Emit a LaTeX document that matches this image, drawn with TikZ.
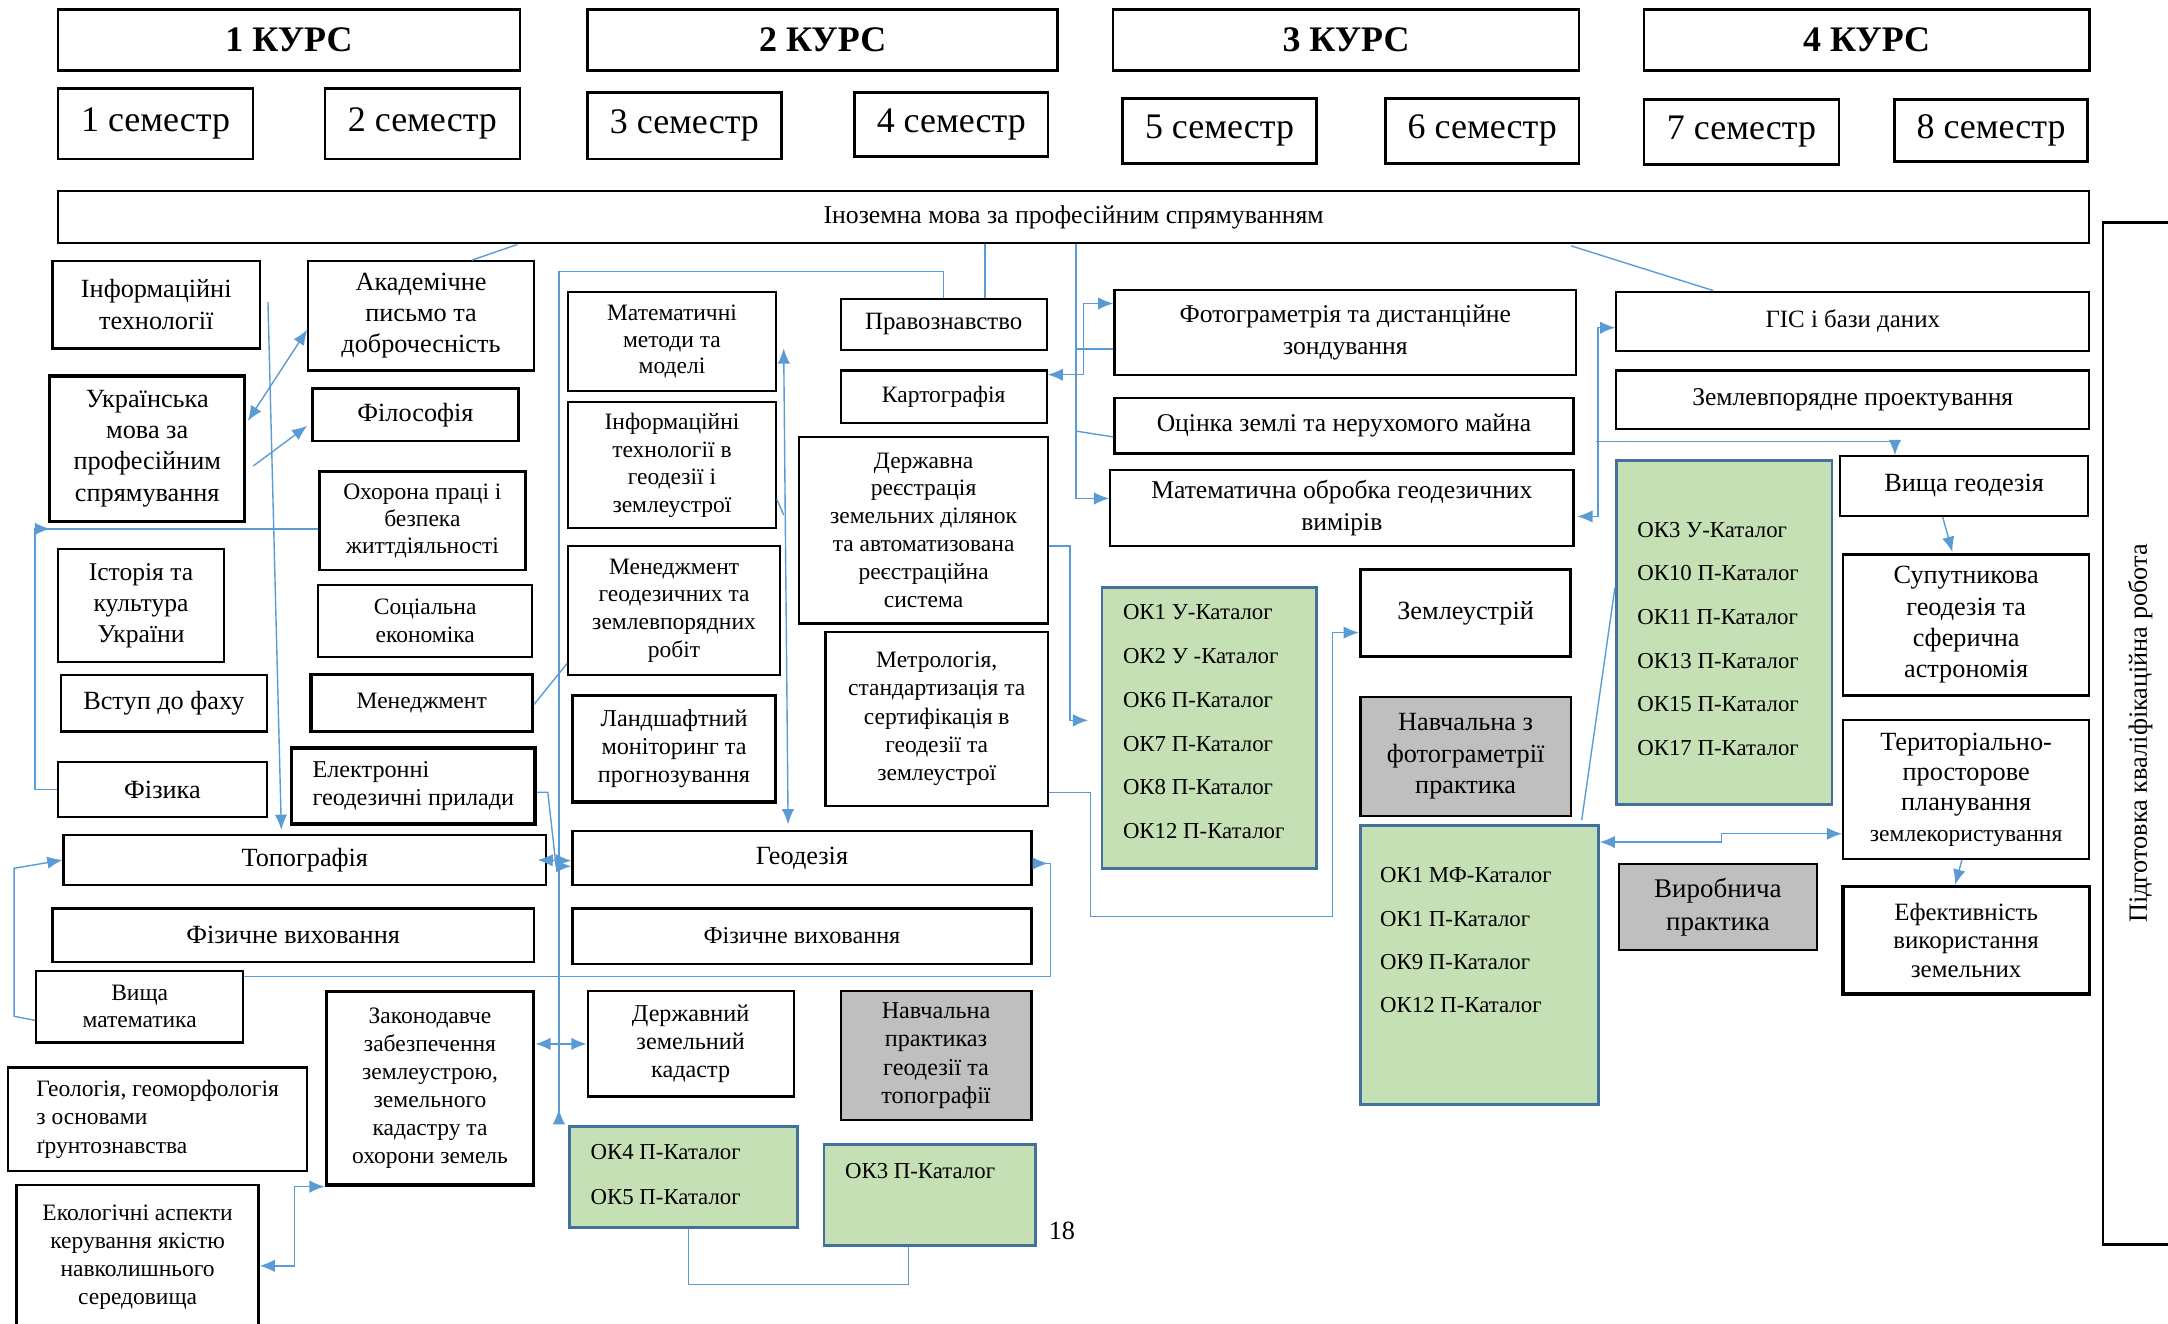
\documentclass[tikz,border=0pt]{standalone}
\usepackage{fontspec}
\setmainfont{Liberation Serif}
\usepackage{tikz}
\usetikzlibrary{calc, arrows.meta}
\definecolor{lineB}{HTML}{5B9BD5}
\definecolor{greenB}{HTML}{C5E0B4}
\definecolor{borderB}{HTML}{41719C}
\definecolor{greyB}{HTML}{BFBFBF}
\newcommand{\setfs}[2]{\fontsize{#1}{#2}\selectfont}

\tikzset{
  box/.style = {draw=black, line width=1.6pt, fill=white, align=center, inner sep=0pt},
  thickBox/.style = {box, line width=2.4pt},
  greyBox/.style = {box, fill=greyB},
  catBox/.style = {draw=borderB, line width=2pt, fill=greenB, inner sep=0pt},
  catText/.style = {anchor=west, align=left, inner sep=0pt, font=\setfs{16.5}{31.6}},
  sz/.style 2 args = {minimum width=#1, minimum height=#2},
  conn/.style = {draw=lineB, line width=1pt},
  arr/.style = {conn, -{Latex[length=11pt, width=9pt]}},
  dbl/.style = {conn, {Latex[length=11pt, width=9pt]}-{Latex[length=11pt, width=9pt]}},
  rarr/.style = {conn, -{Latex[length=11pt, width=9pt, reversed]}}
}

\begin{document}
\begin{tikzpicture}[x=1pt, y=-1pt]
  \useasboundingbox (0,0) rectangle (1568,957);
  \clip (0,0) rectangle (1568,957);
  \fill[white] (0,0) rectangle (1568,957);

  % ------------------------
  % courses and semesters
  % ------------------------

  \node[box, line width=2pt, sz={334}{44}, font=\bfseries\setfs{26}{30}] (kurs1) at (209,29) {1 КУРС};
  \node[box, line width=2pt, sz={340}{44}, font=\bfseries\setfs{26}{30}] (kurs2) at (595,29) {2 КУРС};
  \node[box, line width=2pt, sz={337}{44}, font=\bfseries\setfs{26}{30}] (kurs3) at (973.5,29) {3 КУРС};
  \node[box, line width=2pt, sz={322}{44}, font=\bfseries\setfs{26}{30}] (kurs4) at (1350,29) {4 КУРС};

  \node[box, line width=2pt, sz={141}{51}, font=\setfs{26}{30}] (sem1) at (112.5,89.5) {1 семестр};
  \node[box, line width=2pt, sz={141}{51}, font=\setfs{26}{30}] (sem2) at (305.5,89.5) {2 семестр};
  \node[box, line width=2pt, sz={140}{48}, font=\setfs{26}{30}] (sem3) at (495,91) {3 семестр};
  \node[box, line width=2pt, sz={140}{46}, font=\setfs{26}{30}] (sem4) at (688,90) {4 семестр};
  \node[box, line width=2pt, sz={140}{47}, font=\setfs{26}{30}] (sem5) at (882,94.5) {5 семестр};
  \node[box, line width=2pt, sz={140}{47}, font=\setfs{26}{30}] (sem6) at (1072,94.5) {6 семестр};
  \node[box, line width=2pt, sz={141}{47}, font=\setfs{26}{30}] (sem7) at (1259.5,95.5) {7 семестр};
  \node[box, line width=2pt, sz={140}{45}, font=\setfs{26}{30}] (sem8) at (1440,94.5) {8 семестр};

  \node[box, sz={1469}{38}, font=\setfs{18.6}{22}] (inozemna) at (776.5,157) {Іноземна мова за професійним спрямуванням};
  \node[box, sz={739}{54}, rotate=90, font=\setfs{19}{23}] (kvalif) at (1548,530.5) {Підготовка кваліфікаційна робота};

  % ------------------------
  % 1 course
  % ------------------------

  \node[box, sz={150}{63}, font=\setfs{19}{23}] (infTech) at (113,220.5) {Інформаційні\\технології};
  \node[thickBox, sz={141}{105}, font=\setfs{19}{22.5}] (ukrMova) at (106.5,324.5) {Українська\\мова за\\професійним\\спрямування};
  \node[box, sz={120}{82}, font=\setfs{18.5}{22.5}] (istoriya) at (102,438) {Історія та\\культура\\України};
  \node[box, sz={149}{41}, font=\setfs{19}{23}] (vstup) at (118.5,508.5) {Вступ до фаху};
  \node[box, sz={151}{40}, font=\setfs{19}{23}] (fizyka) at (117.5,571) {Фізика};
  \node[box, sz={150}{52}, font=\setfs{17}{20}] (vmat) at (101,728) {Вища\\математика};
  \node[box, sz={216}{75}, align=left, font=\setfs{17}{20.5}] (heol) at (114,809.5) {Геологія, геоморфологія\\з основами\\ґрунтознавства};
  \node[box, sz={175}{104}, font=\setfs{17}{20.3}] (ekol) at (99.5,909) {Екологічні аспекти\\керування якістю\\навколишнього\\середовища};

  \node[box, sz={163}{79}, font=\setfs{19}{22.5}] (akad) at (304.5,228.5) {Академічне\\письмо та\\доброчесність};
  \node[box, sz={149}{38}, font=\setfs{19}{23}] (filos) at (300.5,300) {Філософія};
  \node[box, sz={149}{71}, font=\setfs{17}{19.5}] (okhor) at (305.5,376.5) {Охорона праці і\\безпека\\життдіяльності};
  \node[box, sz={155}{52}, font=\setfs{17}{20}] (socek) at (307.5,449) {Соціальна\\економіка};
  \node[thickBox, sz={160}{41}, font=\setfs{17}{20}] (menedzh) at (305,508.5) {Менеджмент};
  \node[thickBox, sz={176}{55}, align=left, font=\setfs{17.5}{20}] (elektr) at (299,568.5) {Електронні\\геодезичні прилади};
  \node[box, sz={349}{36}, font=\setfs{19}{23}] (topo) at (220.5,622) {Топографія};
  \node[box, sz={348}{39}, font=\setfs{19}{23}] (fizvykh1) at (212,676.5) {Фізичне виховання};
  \node[thickBox, sz={150}{140}, font=\setfs{17}{20.2}] (zakon) at (311,787) {Законодавче\\забезпечення\\землеустрою,\\земельного\\кадастру та\\охорони земель};

  % ------------------------
  % 2 course
  % ------------------------

  \node[box, sz={150}{72}, font=\setfs{17}{19.5}] (matmet) at (486,247) {Математичні\\методи та\\моделі};
  \node[box, sz={150}{91}, font=\setfs{17}{20}] (inftg) at (486,336.5) {Інформаційні\\технології в\\геодезії і\\землеустрої};
  \node[box, sz={153}{93}, font=\setfs{17}{20}] (menged) at (487.5,441.5) {Менеджмент\\геодезичних та\\землевпорядних\\робіт};
  \node[thickBox, sz={147}{77}, font=\setfs{17.5}{20.5}] (landsh) at (487.5,541.5) {Ландшафтний\\моніторинг та\\прогнозування};
  \node[box, sz={332}{39}, font=\setfs{19}{23}] (geod) at (580,620.5) {Геодезія};
  \node[box, sz={332}{40}, font=\setfs{17.5}{21}] (fizvykh2) at (580,677) {Фізичне виховання};
  \node[box, sz={149}{76}, font=\setfs{17.5}{20.5}] (derzhzk) at (499.5,755) {Державний\\земельний\\кадастр};
  \node[catBox, sz={165}{73}] (ok45) at (494.5,851.5) {};
  \node[catText, font=\setfs{16.5}{33}] (ok45Text) at (427,849.5) {ОК4 П-Каталог\\ОК5 П-Каталог};

  \node[box, sz={149}{37}, font=\setfs{18}{22}] (pravo) at (682.5,234.5) {Правознавство};
  \node[box, sz={149}{38}, font=\setfs{17}{21}] (kartog) at (682.5,287) {Картографія};
  \node[box, sz={180}{135}, font=\setfs{17}{20.2}] (derzhreg) at (668,383.5) {Державна\\реєстрація\\земельних ділянок\\та автоматизована\\реєстраційна\\система};
  \node[box, sz={161}{126}, font=\setfs{17}{20.5}] (metrol) at (677.5,520) {Метрологія,\\стандартизація та\\сертифікація в\\геодезії та\\землеустрої};
  \node[greyBox, sz={138}{93}, font=\setfs{17.5}{20.3}] (navchpr) at (677,763.5) {Навчальна\\практиказ\\геодезії та\\топографії};
  \node[catBox, sz={153}{73}] (ok3p) at (672.5,864.5) {};
  \node[catText] (ok3pText) at (611,847) {ОК3 П-Каталог};
  \node[font=\setfs{19}{23}] (pageNum) at (768,890) {18};

  % ------------------------
  % 3 course
  % ------------------------

  \node[box, sz={334}{61}, font=\setfs{18.5}{23}] (foto) at (973,240.5) {Фотограметрія та дистанційне\\зондування};
  \node[box, sz={332}{40}, font=\setfs{18.5}{23}] (otsinka) at (972,308) {Оцінка землі та нерухомого майна};
  \node[box, sz={335}{55}, font=\setfs{18.5}{23}] (matobr) at (970.5,367.5) {Математична обробка геодезичних\\вимірів};
  \node[catBox, sz={155}{203}] (ok1u) at (874.5,526.5) {};
  \node[catText] (ok1uText) at (812,522) {ОК1 У-Каталог\\ОК2 У -Каталог\\ОК6 П-Каталог\\ОК7 П-Каталог\\ОК8 П-Каталог\\ОК12 П-Каталог};
  \node[thickBox, sz={152}{63}, font=\setfs{19}{23}] (zemleustr) at (1060,443.5) {Землеустрій};
  \node[greyBox, sz={152}{86}, font=\setfs{19}{23}] (navchfoto) at (1060,547) {Навчальна з\\фотограметрії\\практика};
  \node[catBox, sz={172}{202}] (ok1mf) at (1070,698) {};
  \node[catText, font=\setfs{16.5}{31.3}] (ok1mfText) at (998,680) {ОК1 МФ-Каталог\\ОК1 П-Каталог\\ОК9 П-Каталог\\ОК12 П-Каталог};

  % ------------------------
  % 4 course
  % ------------------------

  \node[box, sz={342}{43}, font=\setfs{18}{22}] (gis) at (1340,232.5) {ГІС і бази даних};
  \node[box, sz={342}{42}, font=\setfs{18.5}{22}] (zempr) at (1340,289) {Землевпорядне проектування};
  \node[catBox, sz={156}{249}] (ok3u) at (1247,457.5) {};
  \node[catText] (ok3uText) at (1184,462) {ОК3 У-Каталог\\ОК10 П-Каталог\\ОК11 П-Каталог\\ОК13 П-Каталог\\ОК15 П-Каталог\\ОК17 П-Каталог};
  \node[box, sz={179}{43}, font=\setfs{19}{23}] (vyshgeod) at (1420.5,351.5) {Вища геодезія};
  \node[box, sz={178}{102}, font=\setfs{19}{22.6}] (suput) at (1422,452) {Супутникова\\геодезія та\\сферична\\астрономія};
  \node[box, sz={178}{100}, font=\setfs{19}{22}] (terpl) at (1422,571) {Територіально-\\просторове\\планування\\{\setfs{17}{22}землекористування}};
  \node[greyBox, sz={143}{62}, font=\setfs{19.5}{24}] (vyrob) at (1242.5,656) {Виробнича\\практика};
  \node[thickBox, sz={178}{78}, font=\setfs{18}{20.5}] (efekt) at (1422,680) {Ефективність\\використання\\земельних};

  % ------------------------
  % connectors
  % ------------------------

  \draw[conn] ($(inozemna.south west)+(333,0)$) -- ($(akad.north west)+(119,0)$);
  \draw[arr] ($(infTech.east)+(5,-2)$) -- ($(topo.north)+(-17,-3)$);
  \draw[dbl] ($(ukrMova.east)+(1,-20)$) -- ($(akad.west)+(0,10)$);
  \draw[arr] ($(ukrMova.east)+(5,12.5)$) -- ($(filos.west)+(-3,8)$);

  \coordinate (kFiz) at ($(fizyka.west)+(-16,0)$);
  \coordinate (kOkh) at ($(okhor.west)+(0,6)$);
  \draw[conn] (fizyka.west) -- (kFiz) |- (kOkh);
  \draw[arr] (kFiz |- kOkh) -- ++(11,0);

  \draw[conn] ($(menedzh.east)+(0,1)$) -- ($(menged.south west)+(0,-9)$);

  \coordinate (kZak) at ($(zakon.south east)+(17,-45)$);
  \draw[rarr] (pravo.north) -- ++(0,-19) -| (kZak);
  \coordinate (kPr) at ($(pravo.north)+(30,0)$);
  \draw[conn] (kPr) -- (kPr |- inozemna.south);

  \draw[arr] ($(vmat.west)+(0,10)$) -- ++(-15,-3) -- ++(0,-107) -- (topo.west);
  \draw[rarr] ($(vmat.north east)+(0,5)$) -| ($(geod.east)+(13,4)$) -- ($(geod.east)+(0,4)$);
  \draw[arr] ($(elektr.east)+(0,4.5)$) -- ++(8,0) -- ($(geod.west)+(-11,6)$) -- ($(geod.west)+(0,6)$);
  \draw[dbl] ($(topo.east)+(-7,0)$) -- ($(geod.west)+(0,2)$);
  \draw[dbl] ($(zakon.east)+(0,-32)$) -- (derzhzk.west);
  \draw[dbl] ($(ekol.east)+(0,6.5)$) -- ++(25,0) |- (zakon.south west);
  \draw[dbl] ($(matmet.east)+(5,5)$) -- ($(geod.north)+(-10,-4)$);
  \draw[conn] ($(inftg.east)+(0,24.5)$) -- ++(5,11.5);
  \draw[conn] ($(ok45.south)+(3.5,0)$) -- ++(0,40) -| ($(ok3p.south)+(-15.5,0)$);

  \coordinate (kIn) at ($(inozemna.south west)+(737,0)$);
  \draw[arr] (kIn) |- ($(matobr.west)+(0,-7)$);
  \draw[conn] ($(foto.west)+(0,12)$) -- ++(-27,0);
  \draw[conn] ($(otsinka.west)+(0,8)$) -- ($(kIn)+(0,135)$);
  \draw[dbl] ($(kartog.east)+(0,-16)$) -- ++(26,0) |- ($(foto.west)+(0,-21)$);
  \draw[arr] ($(derzhreg.east)+(0,11.5)$) -- ++(15,0) |- ($(ok1u.west)+(-9,-5.5)$);
  \draw[arr] ($(metrol.east)+(0,53)$) -- ++(30,0) -- ++(0,90) -| ($(zemleustr.west)+(-19,14)$) -- ($(zemleustr.west)+(0,14)$);

  \draw[conn] ($(inozemna.south west)+(1095,1)$) -- ($(gis.north west)+(71,0)$);
  \draw[dbl] ($(matobr.east)+(2,6)$) -- ++(15,0) |- ($(gis.west)+(0,4.5)$);
  \draw[arr] ($(gis.west)+(-14,87)$) -| ($(vyshgeod.north)+(-50,0)$);
  \draw[conn] ($(ok1mf.north east)+(-13,-3)$) -- ($(ok3u.west)+(0,-32.5)$);
  \draw[dbl] ($(ok1mf.east)+(0,-89)$) -- ++(88,0) -- ++(0,-6) -- ($(terpl.west)+(0,32)$);
  \draw[arr] ($(vyshgeod.south)+(-15.5,0)$) -- ($(suput.north)+(-10,-1)$);
  \draw[arr] ($(terpl.south)+(-3,0)$) -- ($(efekt.north)+(-8,0)$);
\end{tikzpicture}
\end{document}
